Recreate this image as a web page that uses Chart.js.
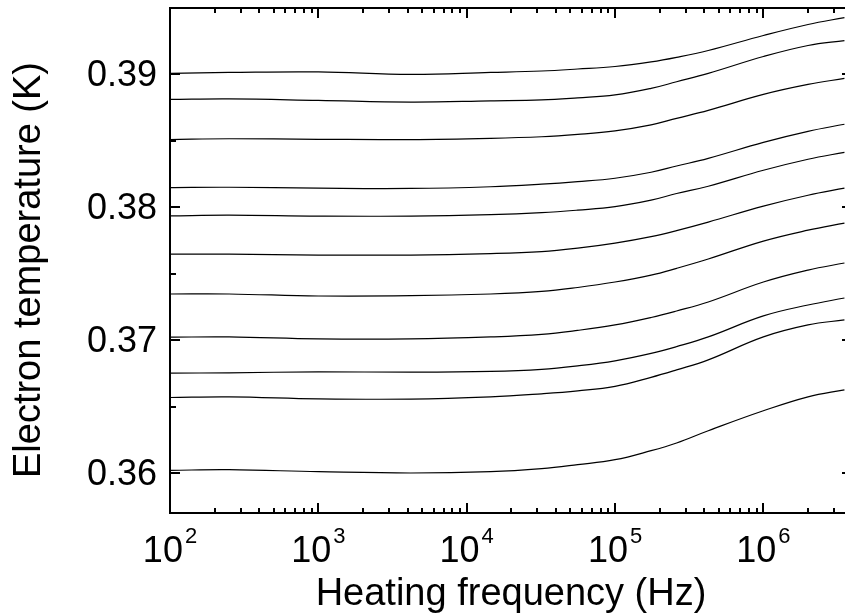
<!DOCTYPE html>
<html>
<head>
<meta charset="utf-8">
<script src="https://cdn.jsdelivr.net/npm/chart.js@4.4.1/dist/chart.umd.min.js"></script>
<style>
  html, body { margin: 0; padding: 0; background: #fff; }
</style>
</head>
<body>
<canvas id="chart" width="845" height="614"></canvas>
<script>
const freqs = [100, 250, 1000, 4200, 14500, 32000, 56000, 100000, 175000, 260000, 425000, 1000000, 2000000, 3520000];

// Electron temperature (K), one trace per array, top to bottom
const t1  = [0.39008, 0.39015, 0.39019, 0.39000, 0.39015, 0.39026, 0.39041, 0.39060, 0.39094, 0.39128, 0.39180, 0.39293, 0.39376, 0.39428];
const t2  = [0.38812, 0.38816, 0.38805, 0.38792, 0.38801, 0.38808, 0.38824, 0.38846, 0.38895, 0.38945, 0.39008, 0.39135, 0.39218, 0.39255];
const t3  = [0.38510, 0.38516, 0.38512, 0.38510, 0.38519, 0.38531, 0.38549, 0.38576, 0.38621, 0.38670, 0.38730, 0.38850, 0.38925, 0.38970];
const t4  = [0.38149, 0.38151, 0.38144, 0.38142, 0.38155, 0.38174, 0.38193, 0.38219, 0.38264, 0.38311, 0.38369, 0.38489, 0.38572, 0.38625];
const t5  = [0.37936, 0.37941, 0.37934, 0.37934, 0.37945, 0.37960, 0.37979, 0.38005, 0.38054, 0.38104, 0.38159, 0.38279, 0.38362, 0.38414];
const t6  = [0.37648, 0.37648, 0.37641, 0.37641, 0.37652, 0.37667, 0.37693, 0.37731, 0.37780, 0.37825, 0.37889, 0.38009, 0.38091, 0.38144];
const t7  = [0.37348, 0.37348, 0.37333, 0.37335, 0.37348, 0.37367, 0.37397, 0.37438, 0.37490, 0.37541, 0.37611, 0.37746, 0.37828, 0.37881];
const t8  = [0.37023, 0.37025, 0.37010, 0.37010, 0.37025, 0.37044, 0.37074, 0.37115, 0.37171, 0.37220, 0.37288, 0.37438, 0.37528, 0.37581];
const t9  = [0.36752, 0.36755, 0.36762, 0.36760, 0.36766, 0.36781, 0.36807, 0.36845, 0.36901, 0.36952, 0.37025, 0.37183, 0.37265, 0.37318];
const t10 = [0.36569, 0.36574, 0.36559, 0.36557, 0.36574, 0.36597, 0.36619, 0.36653, 0.36721, 0.36777, 0.36852, 0.37025, 0.37115, 0.37153];
const t11 = [0.36021, 0.36026, 0.36011, 0.36001, 0.36011, 0.36034, 0.36064, 0.36101, 0.36169, 0.36227, 0.36319, 0.36469, 0.36574, 0.36627];
const traces = [t1, t2, t3, t4, t5, t6, t7, t8, t9, t10, t11];

// Axes
const xMin = 100, xMax = 3.55e6;
const yMin = 0.357, yMax = 0.395;
const xDecades = [2, 3, 4, 5, 6];
const yMajor = [0.36, 0.37, 0.38, 0.39];
const yMinor = [0.365, 0.375, 0.385];
const xTitle = "Heating frequency (Hz)";
const yTitle = "Electron temperature (K)";

const FONT = '"Liberation Sans", Arial, sans-serif';

// draws the frame, inward ticks and labels (the default ones can't do superscripts / inward ticks)
const frame = {
    id: "frame",
    afterDraw(chart) {
        const ctx = chart.ctx;
        const a = chart.chartArea;
        const xs = chart.scales.x;
        const ys = chart.scales.y;
        ctx.save();
        ctx.strokeStyle = "#000";
        ctx.fillStyle = "#000";

        // spines
        ctx.lineWidth = 2;
        ctx.beginPath();
        ctx.moveTo(a.right + 2, a.top);
        ctx.lineTo(a.left, a.top);
        ctx.lineTo(a.left, a.bottom);
        ctx.lineTo(a.right + 2, a.bottom);
        ctx.stroke();

        // x ticks, bottom and top
        xDecades.forEach(d => {
            for (let m = 1; m <= 9; m++) {
                const v = m * Math.pow(10, d);
                if (v < xMin || v > xMax) continue;
                const px = Math.round(xs.getPixelForValue(v));
                const len = m === 1 ? 10 : 5;
                ctx.beginPath();
                ctx.moveTo(px, a.bottom);
                ctx.lineTo(px, a.bottom - len);
                ctx.moveTo(px, a.top);
                ctx.lineTo(px, a.top + len);
                ctx.stroke();
            }
        });

        // y ticks
        yMajor.forEach(v => {
            const py = Math.round(ys.getPixelForValue(v));
            ctx.beginPath();
            ctx.moveTo(a.left, py);
            ctx.lineTo(a.left + 10, py);
            ctx.moveTo(a.right, py);
            ctx.lineTo(a.right - 3, py);
            ctx.stroke();
        });
        yMinor.forEach(v => {
            const py = Math.round(ys.getPixelForValue(v));
            ctx.beginPath();
            ctx.moveTo(a.left, py);
            ctx.lineTo(a.left + 6, py);
            ctx.stroke();
        });

        // y tick labels
        ctx.font = "36px " + FONT;
        ctx.textAlign = "right";
        ctx.textBaseline = "alphabetic";
        yMajor.forEach(v => {
            const py = ys.getPixelForValue(v);
            ctx.fillText(v.toFixed(2), a.left - 13, py + 12);
        });

        // x tick labels: 10 with superscript exponent
        ctx.textAlign = "left";
        xDecades.forEach(d => {
            const px = xs.getPixelForValue(Math.pow(10, d));
            ctx.font = "36px " + FONT;
            const wBase = ctx.measureText("10").width;
            ctx.font = "22px " + FONT;
            const wExp = ctx.measureText(String(d)).width;
            const x0 = px - (wBase + 2 + wExp) / 2;
            ctx.font = "36px " + FONT;
            ctx.fillText("10", x0, 562);
            ctx.font = "22px " + FONT;
            ctx.fillText(String(d), x0 + wBase + 2, 543);
        });

        // axis titles
        ctx.font = "38px " + FONT;
        ctx.textAlign = "center";
        ctx.fillText(xTitle, 511, 605);
        ctx.translate(40, 270);
        ctx.rotate(-Math.PI / 2);
        ctx.fillText(yTitle, 0, 0);
        ctx.restore();
    }
};

new Chart(document.getElementById("chart"), {
    type: "line",
    data: {
        datasets: traces.map((t, i) => ({
            label: "trace " + (i + 1),
            data: freqs.map((f, j) => ({ x: f, y: t[j] })),
            borderColor: "#000",
            borderWidth: 1.2,
            pointRadius: 0,
            fill: false,
            tension: 0.4
        }))
    },
    options: {
        responsive: false,
        animation: false,
        devicePixelRatio: 1,
        layout: { padding: { left: 170, top: 8, right: 0, bottom: 101 } },
        plugins: { legend: { display: false }, tooltip: { enabled: false } },
        scales: {
            x: { type: "logarithmic", min: xMin, max: xMax, display: false },
            y: { type: "linear", min: yMin, max: yMax, display: false }
        }
    },
    plugins: [frame]
});
</script>
</body>
</html>
